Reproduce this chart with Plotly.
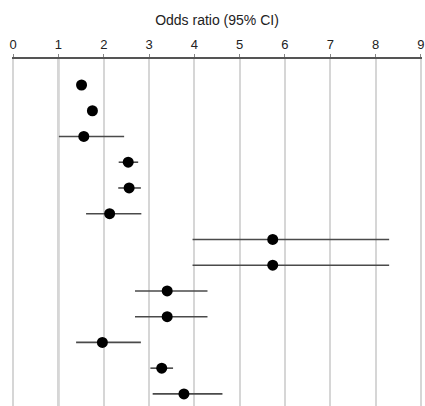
import plotly.graph_objects as go

rows = list(range(1, 14))
odds_ratio = [1.51, 1.75, 1.56, 2.54, 2.56, 2.13, 5.73, 5.73, 3.40, 3.40, 1.97, 3.28, 3.77]
ci_low = [1.44, 1.68, 1.01, 2.33, 2.32, 1.61, 3.96, 3.96, 2.69, 2.69, 1.39, 3.03, 3.08]
ci_high = [1.58, 1.82, 2.45, 2.76, 2.82, 2.83, 8.30, 8.30, 4.29, 4.29, 2.82, 3.53, 4.62]
x_ticks = list(range(0, 10))
null_value = 1

err_plus = [h - o for h, o in zip(ci_high, odds_ratio)]
err_minus = [o - l for o, l in zip(odds_ratio, ci_low)]

fig = go.Figure()
fig.add_trace(go.Scatter(
    x=odds_ratio, y=rows, mode="markers",
    marker=dict(color="black", size=11),
    error_x=dict(type="data", symmetric=False, array=err_plus, arrayminus=err_minus,
                 color="#4a4a4a", thickness=1.6, width=0),
    showlegend=False, hoverinfo="skip",
))

fig.add_vline(x=null_value, line=dict(color="#444444", width=1.5), layer="below")

fig.update_layout(
    width=425, height=406,
    margin=dict(l=12, r=3, t=59, b=0, pad=0),
    paper_bgcolor="white", plot_bgcolor="white",
    font=dict(family="Liberation Sans, Arial, sans-serif", color="#222222", size=13),
    xaxis=dict(
        side="top", range=[-0.025, 9.025], tickvals=x_ticks, ticktext=[str(t) for t in x_ticks],
        showline=True, linecolor="#555555", linewidth=1.5,
        ticks="outside", ticklen=3, tickcolor="#888888", tickwidth=1,
        showgrid=True, gridcolor="#d6d6d6", gridwidth=1.5, zeroline=False,
        tickfont=dict(size=13), automargin=False,
        title=dict(text="Odds ratio (95% CI)", font=dict(size=14), standoff=8),
    ),
    yaxis=dict(range=[13.47, -0.01], visible=False, showgrid=False, zeroline=False),
)

fig.write_html(
    "out.html",
    config={"displayModeBar": False},
    post_script="document.body.style.margin='0';document.body.style.overflow='hidden';",
)
